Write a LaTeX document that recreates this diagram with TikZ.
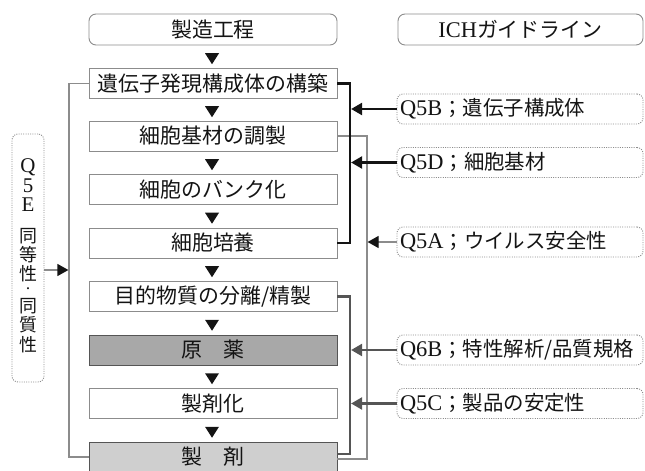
\documentclass[tikz,border=0pt]{standalone}
\usepackage{fontspec}
\setmainfont{Liberation Serif}
\newfontfamily\jp{Noto Sans CJK JP}
\usetikzlibrary{arrows.meta,calc}
\definecolor{linegray}{HTML}{8C8C8C}
\definecolor{busgray}{HTML}{555555}
\definecolor{fillmid}{HTML}{A8A8A8}
\definecolor{filllight}{HTML}{CFCFCF}
\definecolor{textgray}{HTML}{141414}
\newcommand\jptext[1]{{\jp\fontsize{20.5}{24}\selectfont #1}}
\begin{document}
\begin{tikzpicture}[x=1bp,y=-1bp,
  stepbox/.style={draw=linegray,line width=0.9bp,minimum width=248bp,minimum height=30bp,inner sep=0pt,text=textgray,font=\jp\fontsize{21}{24}\selectfont},
  headbox/.style={stepbox,rounded corners=7bp,minimum height=31bp},
  dotbox/.style={draw=linegray,dash pattern=on 1bp off 1.3bp,line width=0.9bp,rounded corners=6bp},
  guidebox/.style={dotbox,text width=240bp,align=left,inner xsep=3bp,inner ysep=0pt,minimum height=30bp,text=textgray,font=\fontsize{22.5}{24}\selectfont},
  thinline/.style={draw=linegray,line width=1.2bp},
  blackbus/.style={draw=textgray,line width=2.3bp},
  graybus/.style={draw=busgray,line width=2.3bp},
  tip/.style={-{Triangle[length=11bp,width=12bp,color=#1]}}]
\useasboundingbox (0,0) rectangle (645,471);
\node [headbox,name=h1] at (213,29.5){製造工程};
\node [headbox,name=h2,minimum width=245bp] at (520.5,29.5){{\rmfamily\fontsize{22.5}{24}\selectfont ICH}ガイドライン};
\node [stepbox,name=s1] at (213,83.5){遺伝子発現構成体の構築};
\node [stepbox,name=s2] at (213,136){細胞基材の調製};
\node [stepbox,name=s3] at (213,189.5){細胞のバンク化};
\node [stepbox,name=s4] at (213,243){細胞培養};
\node [stepbox,name=s5] at (213,296.5){目的物質の分離/精製};
\node [stepbox,name=s6,fill=fillmid,draw=busgray] at (213,350){原　薬};
\node [stepbox,name=s7] at (213,403.5){製剤化};
\node [stepbox,name=s8,fill=filllight,draw=busgray] at (213,457){製　剤};
\foreach \a/\b in {h1/s1,s1/s2,s2/s3,s3/s4,s4/s5,s5/s6,s6/s7,s7/s8}
  \fill [textgray] ($(\a.south)!0.5!(\b.north)+(-1,2)$) +(-7,-5.5) -- +(7,-5.5) -- +(0,5.5) -- cycle;
\node [guidebox,name=g1] at (520,109){Q5B\jptext{；遺伝子構成体}};
\node [guidebox,name=g2] at (520,162.5){Q5D\jptext{；細胞基材}};
\node [guidebox,name=g3] at (520,242){Q5A\jptext{；ウイルス安全性}};
\node [guidebox,name=g4] at (520,350){Q6B\jptext{；特性解析/品質規格}};
\node [guidebox,name=g5] at (520,403.5){Q5C\jptext{；製品の安定性}};
\node [dotbox,name=q5e,minimum width=32bp,minimum height=248bp] at (28,258){};
\foreach \t/\y [count=\i] in {{\fontsize{21}{21}\selectfont Q}/167,{\fontsize{21}{21}\selectfont 5}/186,{\fontsize{21}{21}\selectfont E}/205,{\jp 同}/236,{\jp 等}/255,{\jp 性}/274,{\jp\fontsize{10}{10}\selectfont ・}/290,{\jp 同}/306,{\jp 質}/325,{\jp 性}/345}
  \node [text=textgray,inner sep=0pt,font=\fontsize{18}{18}\selectfont,name=c\i] at (28,\y){\t};
\coordinate (lbus) at (69,0);
\coordinate (rbus) at (350,0);
\coordinate (gbus) at (367,0);
\coordinate (q5eout) at ([yshift=-12bp]q5e.east);
\coordinate (s8low) at ([yshift=-2bp]s8.east);
\coordinate (s8high) at ([yshift=3bp]s8.east);
\draw [thinline] (s1.west) -- (s1.west -| lbus) -- (s8.west -| lbus) -- (s8.west);
\draw [thinline,tip=textgray,shorten >=0.6bp] (q5eout) -- (q5eout -| lbus);
\draw [thinline] (s2.east) -- (s2.east -| gbus) -- (s8low -| gbus) -- (s8low);
\draw [blackbus] (s1.east) -- (s1.east -| rbus) -- (s4.east -| rbus) -- (s4.east);
\draw [graybus] (s5.east) -- (s5.east -| rbus) -- (s8high -| rbus) -- (s8high);
\draw [blackbus,tip=textgray,shorten >=1.1bp] (g1.west) -- (g1.west -| rbus);
\draw [blackbus,tip=textgray,shorten >=1.1bp] (g2.west) -- (g2.west -| rbus);
\draw [thinline,tip=textgray,shorten >=0.6bp] (g3.west) -- (g3.west -| gbus);
\draw [graybus,tip=busgray,shorten >=1.1bp] (g4.west) -- (g4.west -| rbus);
\draw [graybus,tip=busgray,shorten >=1.1bp] (g5.west) -- (g5.west -| rbus);
\end{tikzpicture}
\end{document}
